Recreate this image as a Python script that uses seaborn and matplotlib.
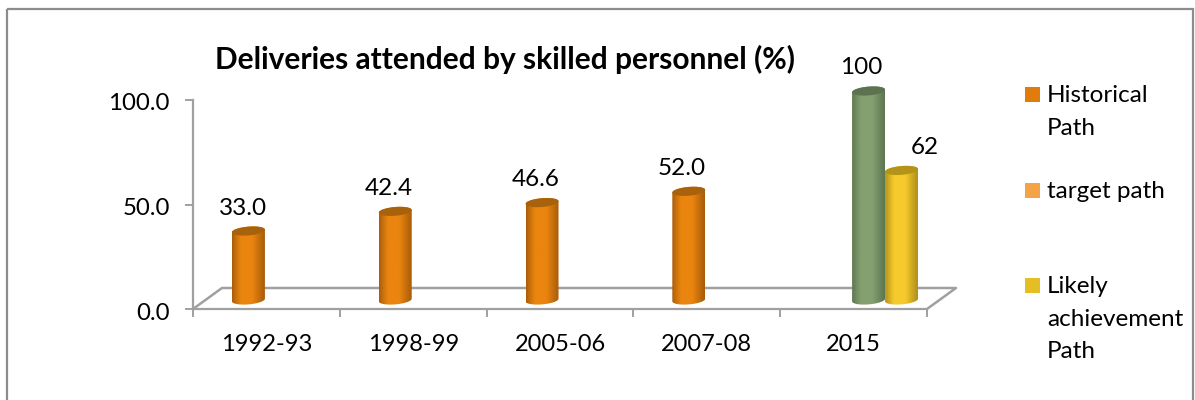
import numpy as np
import pandas as pd
import matplotlib
matplotlib.use("Agg")
import matplotlib.pyplot as plt
import seaborn as sns
from matplotlib.colors import LinearSegmentedColormap
from matplotlib.path import Path
from matplotlib.patches import PathPatch, Rectangle
from matplotlib.transforms import ScaledTranslation

years = ["1992-93", "1998-99", "2005-06", "2007-08", "2015"]
series_names = ["Historical Path", "target path", "Likely achievement Path"]
historical = [33.0, 42.4, 46.6, 52.0]
target = [100]
likely = [62]
y_ticks = [0, 50, 100]

legend_colors = ["#df7c0c", "#f4a446", "#e5bd25"]
# edge, middle, top ellipse of the cylinders
body_colors = {
    "Historical Path": ("#a85c0a", "#ea850f", "#a8620c"),
    "target path": ("#5c7650", "#84a070", "#5d7350"),
    "Likely achievement Path": ("#b18f1c", "#f6ca2c", "#b39418"),
}
label_texts = {"Historical Path": ["33.0", "42.4", "46.6", "52.0"], "target path": ["100"], "Likely achievement Path": ["62"]}
label_shift = {"Historical Path": [-5, -6, -6, -7], "target path": [-7], "Likely achievement Path": [23]}

sns.set_theme(style="white")
plt.rcParams["font.family"] = ["Lato", "DejaVu Sans"]

rows = [(y, series_names[0], v) for y, v in zip(years[:4], historical)]
rows += [(years[4], series_names[1], target[0]), (years[4], series_names[2], likely[0])]
df = pd.DataFrame(rows, columns=["year", "series", "value"])

W, H = 1195, 400
fig = plt.figure(figsize=(W / 100, H / 100), dpi=100, facecolor="white")
ax = fig.add_axes([193 / W, 1 - 309 / H, (927 - 193) / W, (309 - 100) / H])
sns.barplot(data=df, x="year", y="value", hue="series", order=years, hue_order=series_names,
            palette=dict(zip(series_names, legend_colors)), width=0.674, gap=0, dodge=True,
            legend=False, ax=ax)
ax.set_xlim(-0.5, 4.5)
ax.set_ylim(0, 100)
ax.set_xlabel("")
ax.set_ylabel("")
ax.set_yticks(y_ticks)
ax.set_yticklabels([f"{v:.1f}" for v in y_ticks], fontsize=17.3, color="black")
ax.set_xticks(np.arange(-0.5, 5), minor=True)
ax.tick_params(axis="x", which="major", length=0, pad=18, labelsize=17, labelcolor="black")
ax.tick_params(axis="x", which="minor", bottom=True, length=6, width=1.4, color="#a0a0a0")
ax.tick_params(axis="y", left=True, length=5.8, width=1.4, color="#a0a0a0", pad=11)
# y labels sit a little below their ticks in the original
for label in ax.get_yticklabels():
    label.set_transform(label.get_transform() + ScaledTranslation(0, -2 / 100, fig.dpi_scale_trans))
sns.despine(ax=ax)
for side in ["left", "bottom"]:
    ax.spines[side].set_color("#a0a0a0")
    ax.spines[side].set_linewidth(1.6)
ax.patch.set_visible(False)

# overlay in pixel coordinates for the fake 3D parts
ov = fig.add_axes([0, 0, 1, 1], zorder=5)
ov.set_xlim(0, W)
ov.set_ylim(H, 0)
ov.axis("off")
ov.add_patch(Rectangle((7, 9), 1186, 400, fill=False, ec="#8c8c8c", lw=1.6))

# floor of the 3D box
floor = dict(color="#a0a0a0", lw=1.8, solid_capstyle="round")
ov.plot([193, 222, 956, 927], [309, 288, 288, 309], **floor)

DX, LIFT = 15, 9
A, B, SHEAR = 16.5, 4.4, -0.08
fig.canvas.draw()


def ellipse_arc(cx, cy, t0, t1):
    t = np.linspace(t0, t1, 40)
    x = A * np.cos(t)
    return np.column_stack([cx + x, cy + B * np.sin(t) + SHEAR * x])


for container, name in zip(ax.containers, series_names):
    edge, mid, top = body_colors[name]
    cmap = LinearSegmentedColormap.from_list(name, [edge, mid, mid, edge], N=128)
    grad = np.linspace(0, 1, 128).reshape(1, -1) ** 0.85
    for i, bar in enumerate(container):
        bar.set_visible(False)
        (x0, y0), (x1, y1) = ax.transData.transform([(bar.get_x(), 0), (bar.get_x() + bar.get_width(), bar.get_height())])
        cx = (x0 + x1) / 2 + DX
        y_base = H - y0 - LIFT
        y_top = H - y1 - LIFT
        outline = np.vstack([ellipse_arc(cx, y_base, np.pi, 0), ellipse_arc(cx, y_top, 0, -np.pi)])
        body = PathPatch(Path(np.vstack([outline, outline[:1]])), transform=ov.transData, fc="none", ec="none")
        ov.add_patch(body)
        im = ov.imshow(grad, cmap=cmap, extent=(cx - A, cx + A, y_base + B + 3, y_top - B - 3), aspect="auto", zorder=3)
        im.set_clip_path(body)
        ov.fill(*ellipse_arc(cx, y_top, 0, 2 * np.pi).T, color=top, zorder=3, lw=0)
        ov.text(cx + label_shift[name][i], y_top - 23, label_texts[name][i], ha="center", va="center", fontsize=17.5, color="black", zorder=4)
ov.set_xlim(0, W)
ov.set_ylim(H, 0)

ov.text(505, 59, "Deliveries attended by skilled personnel (%)", ha="center", va="center", fontsize=21.5, fontweight="bold", color="black")

# legend entries, spaced as in the original
legend_rows = [("Historical\nPath", 112, 94.5, legend_colors[0]), ("target path", 191, 190, legend_colors[1]), ("Likely\nachievement\nPath", 319, 285.5, legend_colors[2])]
for text, y_center, y_box, color in legend_rows:
    ov.add_patch(Rectangle((1025, y_box - 7.5), 15, 15, color=color, lw=0))
    ov.text(1047, y_center, text, ha="left", va="center", fontsize=17.5, color="black", linespacing=1.65)

fig.savefig("out.png", dpi=100, facecolor="white")
